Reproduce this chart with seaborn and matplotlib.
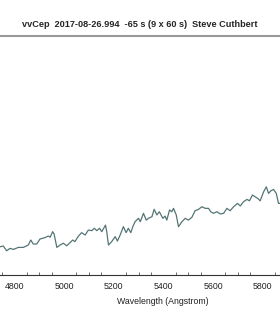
import numpy as np
import pandas as pd
import seaborn as sns
import matplotlib
matplotlib.use("Agg")
import matplotlib.pyplot as plt
from matplotlib.ticker import MultipleLocator

# Spectrum (relative flux, arbitrary units)
wavelength = [4742, 4755, 4769, 4782, 4796, 4816, 4836, 4856, 4866, 4876,
              4890, 4903, 4923, 4937, 4944, 4954, 4960, 4971, 4984, 4997,
              5011, 5024, 5035, 5044, 5058, 5071, 5085, 5098, 5112, 5122,
              5132, 5143, 5152, 5167, 5172, 5179, 5192, 5206, 5215, 5226,
              5239, 5250, 5259, 5269, 5277, 5286, 5300, 5307, 5320, 5331,
              5340, 5354, 5363, 5374, 5384, 5398, 5407, 5414, 5425, 5434,
              5441, 5452, 5461, 5475, 5488, 5501, 5515, 5528, 5542, 5555,
              5569, 5582, 5591, 5602, 5616, 5629, 5643, 5656, 5669, 5683,
              5699, 5710, 5723, 5737, 5747, 5759, 5770, 5780, 5790, 5804,
              5815, 5824, 5833, 5844, 5855, 5864, 5871]
flux = [0.140, 0.144, 0.120, 0.132, 0.127, 0.137, 0.137, 0.149, 0.174, 0.154,
        0.154, 0.179, 0.186, 0.194, 0.188, 0.216, 0.204, 0.137, 0.149, 0.158,
        0.145, 0.161, 0.174, 0.166, 0.194, 0.211, 0.199, 0.224, 0.221, 0.233,
        0.221, 0.233, 0.216, 0.249, 0.216, 0.149, 0.166, 0.191, 0.169, 0.199,
        0.241, 0.211, 0.233, 0.211, 0.241, 0.266, 0.283, 0.266, 0.308, 0.274,
        0.283, 0.291, 0.328, 0.300, 0.316, 0.283, 0.294, 0.274, 0.325, 0.316,
        0.333, 0.300, 0.241, 0.266, 0.283, 0.274, 0.288, 0.321, 0.328, 0.341,
        0.333, 0.333, 0.316, 0.308, 0.316, 0.305, 0.308, 0.333, 0.321, 0.341,
        0.358, 0.345, 0.366, 0.378, 0.371, 0.400, 0.391, 0.383, 0.371, 0.416,
        0.441, 0.408, 0.421, 0.428, 0.408, 0.358, 0.358]

title = "vvCep  2017-08-26.994  -65 s (9 x 60 s)  Steve Cuthbert"

df = pd.DataFrame({"Wavelength": wavelength, "Flux": flux})

sns.set_style("white")
plt.rcParams['font.family'] = ['Liberation Sans', 'DejaVu Sans']

fig = plt.figure(figsize=(2.8, 3.2), dpi=100)
ax = fig.add_axes([0, 0.1416, 1, 0.747])

sns.lineplot(data=df, x="Wavelength", y="Flux", ax=ax, color="#557575", linewidth=0.9)

ax.set_xlim(4742, 5870)
ax.set_ylim(0, 1.2)
ax.xaxis.set_major_locator(MultipleLocator(200))
ax.xaxis.set_minor_locator(MultipleLocator(50))
ax.tick_params(axis="x", which="major", direction="in", length=4, width=0.8,
               color="#333333", labelsize=6.3, labelcolor="#222222", pad=5)
ax.tick_params(axis="x", which="minor", direction="in", length=2, width=0.6,
               color="#555555", bottom=True)
ax.set_yticks([])
ax.set_ylabel("")

for side in ["left", "right"]:
    ax.spines[side].set_visible(False)
ax.spines["top"].set_color("#999999")
ax.spines["top"].set_linewidth(1.5)
ax.spines["bottom"].set_color("#333333")
ax.spines["bottom"].set_linewidth(0.8)

ax.set_xlabel("Wavelength (Angstrom)", fontsize=6.3, color="#222222")
ax.xaxis.set_label_coords(162.5 / 280, -0.095)
ax.set_title(title, fontsize=6.6, fontweight="bold", x=0.498, y=1.0, pad=6.5)

fig.savefig("out.png", dpi=100)
